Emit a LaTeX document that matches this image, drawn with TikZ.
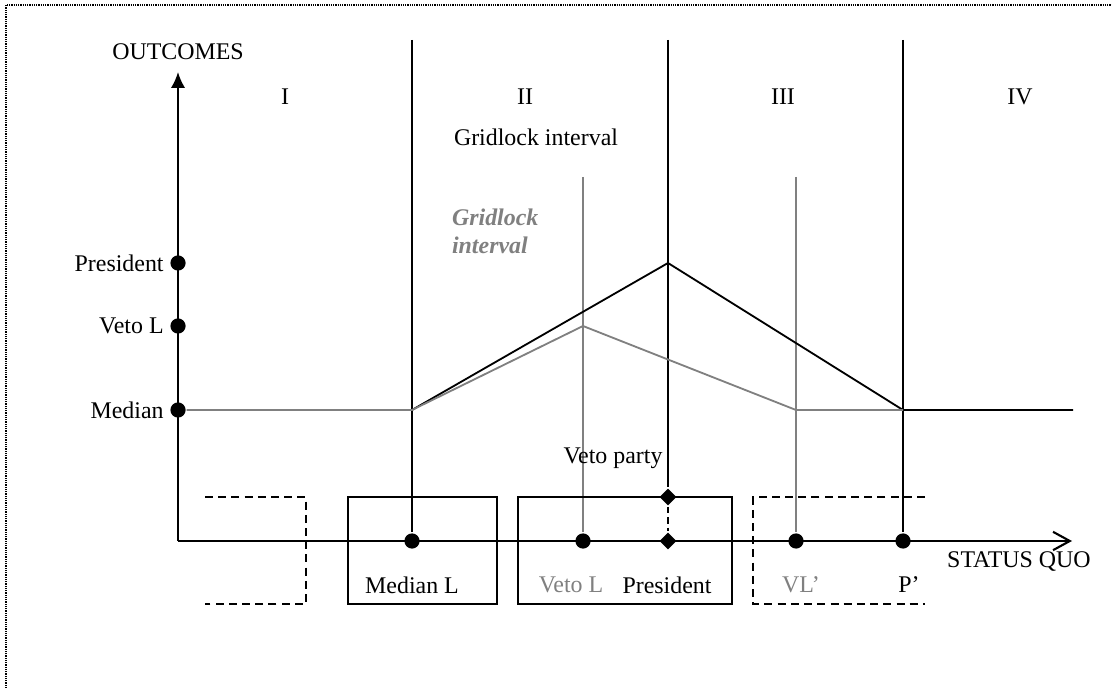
\documentclass[tikz,border=0pt]{standalone}
\usepackage{fontspec}
\setmainfont{Liberation Serif}
\usetikzlibrary{arrows.meta,shapes.geometric}
\definecolor{greyline}{gray}{0.5}

\begin{document}
\begin{tikzpicture}[x=0.025cm, y=-0.025cm, line width=1.5pt,
		every node/.style={font=\fontsize{17}{20}\selectfont},
		dot/.style={circle, fill, inner sep=0pt, minimum size=0.38cm},
		gem/.style={diamond, fill, inner sep=0pt, minimum size=0.44cm},
		grey/.style={color=greyline},
		frame/.style={line width=1.2pt},
		openbox/.style={line width=1.2pt, dash pattern=on 0.2cm off 0.13cm}]
	\useasboundingbox (0,0) rectangle (1112,688);
	\draw[line width=1pt, dash pattern=on 0.8pt off 0.8pt] (6,688) -- (6,5) -- (1112,5);

	\coordinate (o) at (178,541);
	\coordinate (ytop) at (178,72);
	\coordinate (xend) at (1072,541);
	\draw[-{Latex[length=0.4cm, width=0.36cm]}] (o) -- (ytop);
	\draw[-{Straight Barb[length=0.42cm, width=0.46cm]}] (o) -- (xend);
	\node (outcomes) at (178,52) {OUTCOMES};
	\node (sq) at (1019,562) {STATUS QUO};

	\node[dot, label=left:President] (pres) at (178,263) {};
	\node[dot, label=left:Veto L] (vetol) at (178,326) {};
	\node[dot, label=left:Median] (med) at (178,410) {};

	\node[dot] (ml) at (412,541) {};
	\node[dot] (vl) at (583,541) {};
	\node[dot] (vlp) at (796,541) {};
	\node[dot] (pp) at (903,541) {};
	\node[gem] (vp) at (668,497) {};
	\node[gem] (pr) at (668,541) {};

	\node (r1) at (285,97) {I};
	\node (r2) at (525,97) {II};
	\node (r3) at (783,97) {III};
	\node (r4) at (1020,97) {IV};

	\coordinate (t1) at (412,40);
	\coordinate (t2) at (668,40);
	\coordinate (t3) at (903,40);
	\coordinate (g1) at (583,177);
	\coordinate (g2) at (796,177);
	\coordinate (k0) at (412,410);
	\coordinate (peak) at (668,263);
	\coordinate (k1) at (903,410);
	\coordinate (gpeak) at (583,326);
	\coordinate (gk) at (796,410);
	\coordinate (xr) at (1073,410);

	\draw (t1) -- (ml);
	\draw (t2) -- (vp);
	\draw[line width=1.2pt, dash pattern=on 0.16cm off 0.1cm] (vp) -- (pr);
	\draw (t3) -- (pp);
	\draw[grey] (g1) -- (vl);
	\draw[grey] (g2) -- (vlp);
	\draw[line width=1.3pt] (k0) -- (peak) -- (k1) -- (xr);
	\draw[grey, line width=1.3pt] (med) -- (k0) -- (gpeak) -- (gk) -- (k1);

	\node (grid) at (536,137) {Gridlock interval};
	\node[grey, font=\fontsize{17}{20}\selectfont\bfseries\itshape, align=left,
		anchor=north west, inner sep=0pt] (gridg) at (451,208) {Gridlock\\interval};
	\node (veto) at (613,458) {Veto party};

	\draw[frame] (348,497) rectangle (497,604);
	\draw[frame] (518,497) rectangle (732,604);
	\draw[openbox] (205,497) -- (306,497) -- (306,604) -- (205,604);
	\draw[openbox] (925,497) -- (753,497) -- (753,604) -- (925,604);

	\node (mltext) at (412,585) {Median L};
	\node[grey] (vltext) at (571,585) {Veto L};
	\node (prtext) at (667,585) {President};
	\node[grey] (vlptext) at (801,585) {VL'};
	\node (pptext) at (909,585) {P'};
\end{tikzpicture}
\end{document}
